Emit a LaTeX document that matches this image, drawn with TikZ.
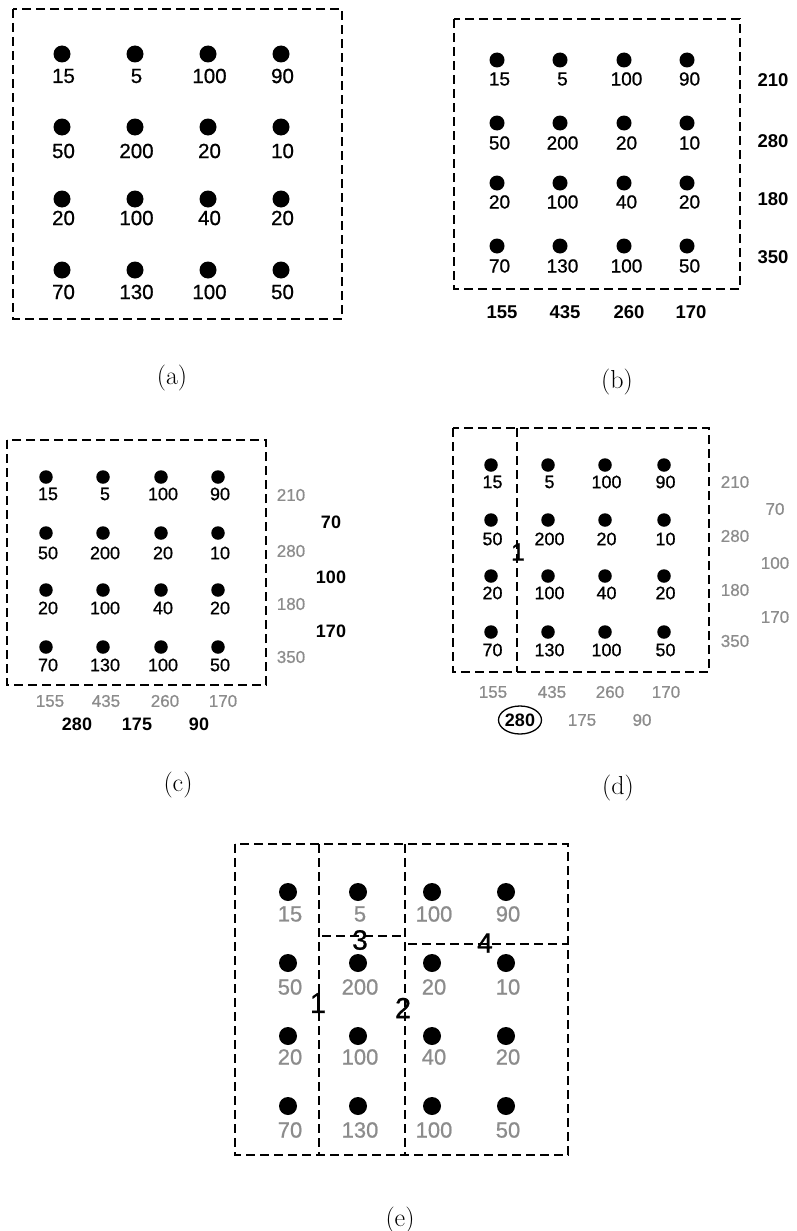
\documentclass[tikz,border=0pt]{standalone}
\usepackage{fontspec}
\newfontfamily\hv[FakeBold=0.8]{Liberation Sans}
\newfontfamily\hvplain{Liberation Sans}
\usetikzlibrary{shapes.geometric}
\begin{document}
\def\vals{{15,5,100,90,50,200,20,10,20,100,40,20,70,130,100,50}}
\tikzset{
  dashbox/.style={draw, dash pattern=on 9pt off 5pt, line width=1.9pt},
  dot/.style={circle, fill=black, inner sep=0pt, minimum size=#1},
  num/.style={font=\hv\fontsize{#1}{#1}\selectfont, inner sep=0pt},
  sumb/.style={font=\hvplain\bfseries\fontsize{#1}{#1}\selectfont, inner sep=0pt},
  faded/.style={text=black!45},
  partlbl/.style={font=\hv\fontsize{#1}{#1}\selectfont, inner sep=0pt},
  caption/.style={font=\fontsize{26}{26}\selectfont, inner sep=0pt}
}
\begin{tikzpicture}[x=1pt,y=-1pt]
\useasboundingbox (0,0) rectangle (797,1231);

% ---------- (a) the grid of points with weights ----------
\draw[dashbox] (13,9) rectangle (342,319);
\foreach \ci/\x in {0/62,1/135,2/208,3/281}{
  \foreach \ri/\y/\ly in {0/54/76,1/127/151,2/199/218,3/270/292}{
    \pgfmathtruncatemacro\val{\vals[4*\ri+\ci]}
    \node[dot=17pt] (a\ri\ci) at (\x,\y) {};
    \node[num=20.5] (al\ri\ci) at (\x+1.5,\ly) {\val};
  }}
\node[caption] (capa) at (172,378) {(a)};

% ---------- (b) row and column sums ----------
\draw[dashbox] (454,19) rectangle (740,289);
\foreach \ci/\x in {0/497,1/560,2/624,3/687}{
  \foreach \ri/\y/\ly in {0/60/79,1/123/143,2/183/202,3/246/266}{
    \pgfmathtruncatemacro\val{\vals[4*\ri+\ci]}
    \node[dot=15pt] (b\ri\ci) at (\x,\y) {};
    \node[num=19] (bl\ri\ci) at (\x+2.5,\ly) {\val};
  }}
\foreach \s/\y [count=\k] in {210/80,280/141,180/199,350/257}
  \node[sumb=18.5] (brs\k) at (773,\y) {\s};
\foreach \s/\x [count=\k] in {155/502,435/565,260/629,170/691}
  \node[sumb=18.5] (bcs\k) at (\x,312) {\s};
\node[caption] (capb) at (617,382) {(b)};

% ---------- (c) differences of neighbouring sums ----------
\draw[dashbox] (7,440) rectangle (266,685);
\foreach \ci/\x in {0/46,1/103,2/161,3/218}{
  \foreach \ri/\y/\ly in {0/477/494,1/533/553,2/590/608,3/647/665}{
    \pgfmathtruncatemacro\val{\vals[4*\ri+\ci]}
    \node[dot=13.5pt] (c\ri\ci) at (\x,\y) {};
    \node[num=18] (cl\ri\ci) at (\x+2,\ly) {\val};
  }}
\foreach \s/\y [count=\k] in {210/495,280/551,180/604,350/657}
  \node[num=17, faded] (crs\k) at (291,\y) {\s};
\foreach \s/\y [count=\k] in {70/522,100/577,170/631}
  \node[sumb=18] (crd\k) at (331,\y) {\s};
\foreach \s/\x [count=\k] in {155/50,435/106,260/165,170/223}
  \node[num=17, faded] (ccs\k) at (\x,701) {\s};
\foreach \s/\x [count=\k] in {280/77,175/137,90/199}
  \node[sumb=18] (ccd\k) at (\x,724) {\s};
\node[caption] (capc) at (178,785) {(c)};

% ---------- (d) first cut at the largest difference ----------
\draw[dashbox] (453,428) rectangle (709,672);
\draw[dashbox] (517,428) -- (517,672);
\foreach \ci/\x in {0/491,1/548,2/605,3/664}{
  \foreach \ri/\y/\ly in {0/465/482,1/520/539,2/576/593,3/632/650}{
    \pgfmathtruncatemacro\val{\vals[4*\ri+\ci]}
    \node[dot=13.5pt] (d\ri\ci) at (\x,\y) {};
    \node[num=18] (dl\ri\ci) at (\x+1.5,\ly) {\val};
  }}
\node[partlbl=25] (d1) at (518,552) {1};
\foreach \s/\y [count=\k] in {210/482,280/536,180/590,350/641}
  \node[num=17, faded] (drs\k) at (735,\y) {\s};
\foreach \s/\y [count=\k] in {70/509,100/563,170/617}
  \node[num=17, faded] (drd\k) at (775,\y) {\s};
\foreach \s/\x [count=\k] in {155/493,435/552,260/610,170/666}
  \node[num=17, faded] (dcs\k) at (\x,692) {\s};
\node[sumb=18, draw, ellipse, line width=1.3pt, minimum width=43pt,
      minimum height=28pt] (dcd1) at (520,720) {280};
\node[num=17, faded] (dcd2) at (582,720) {175};
\node[num=17, faded] (dcd3) at (642,720) {90};
\node[caption] (capd) at (618,788) {(d)};

% ---------- (e) final partition into four parts ----------
\draw[dashbox] (235,844) rectangle (568,1155);
\draw[dashbox] (319,844) -- (319,1155);
\draw[dashbox] (405,844) -- (405,1155);
\draw[dashbox] (322,936) -- (405,936);
\draw[dashbox] (408,944) -- (568,944);
\foreach \ci/\x in {0/288,1/358,2/432,3/506}{
  \foreach \ri/\y/\ly in {0/892/914,1/963/987,2/1036/1057,3/1106/1130}{
    \pgfmathtruncatemacro\val{\vals[4*\ri+\ci]}
    \node[dot=18pt] (e\ri\ci) at (\x,\y) {};
    \node[num=22, faded] (el\ri\ci) at (\x+2,\ly) {\val};
  }}
\node[partlbl=29] (e1) at (318,1003) {1};
\node[partlbl=29] (e2) at (403,1008) {2};
\node[partlbl=28] (e3) at (360,940) {3};
\node[partlbl=28] (e4) at (485,943) {4};
\node[caption] (cape) at (400,1220) {(e)};
\end{tikzpicture}
\end{document}
